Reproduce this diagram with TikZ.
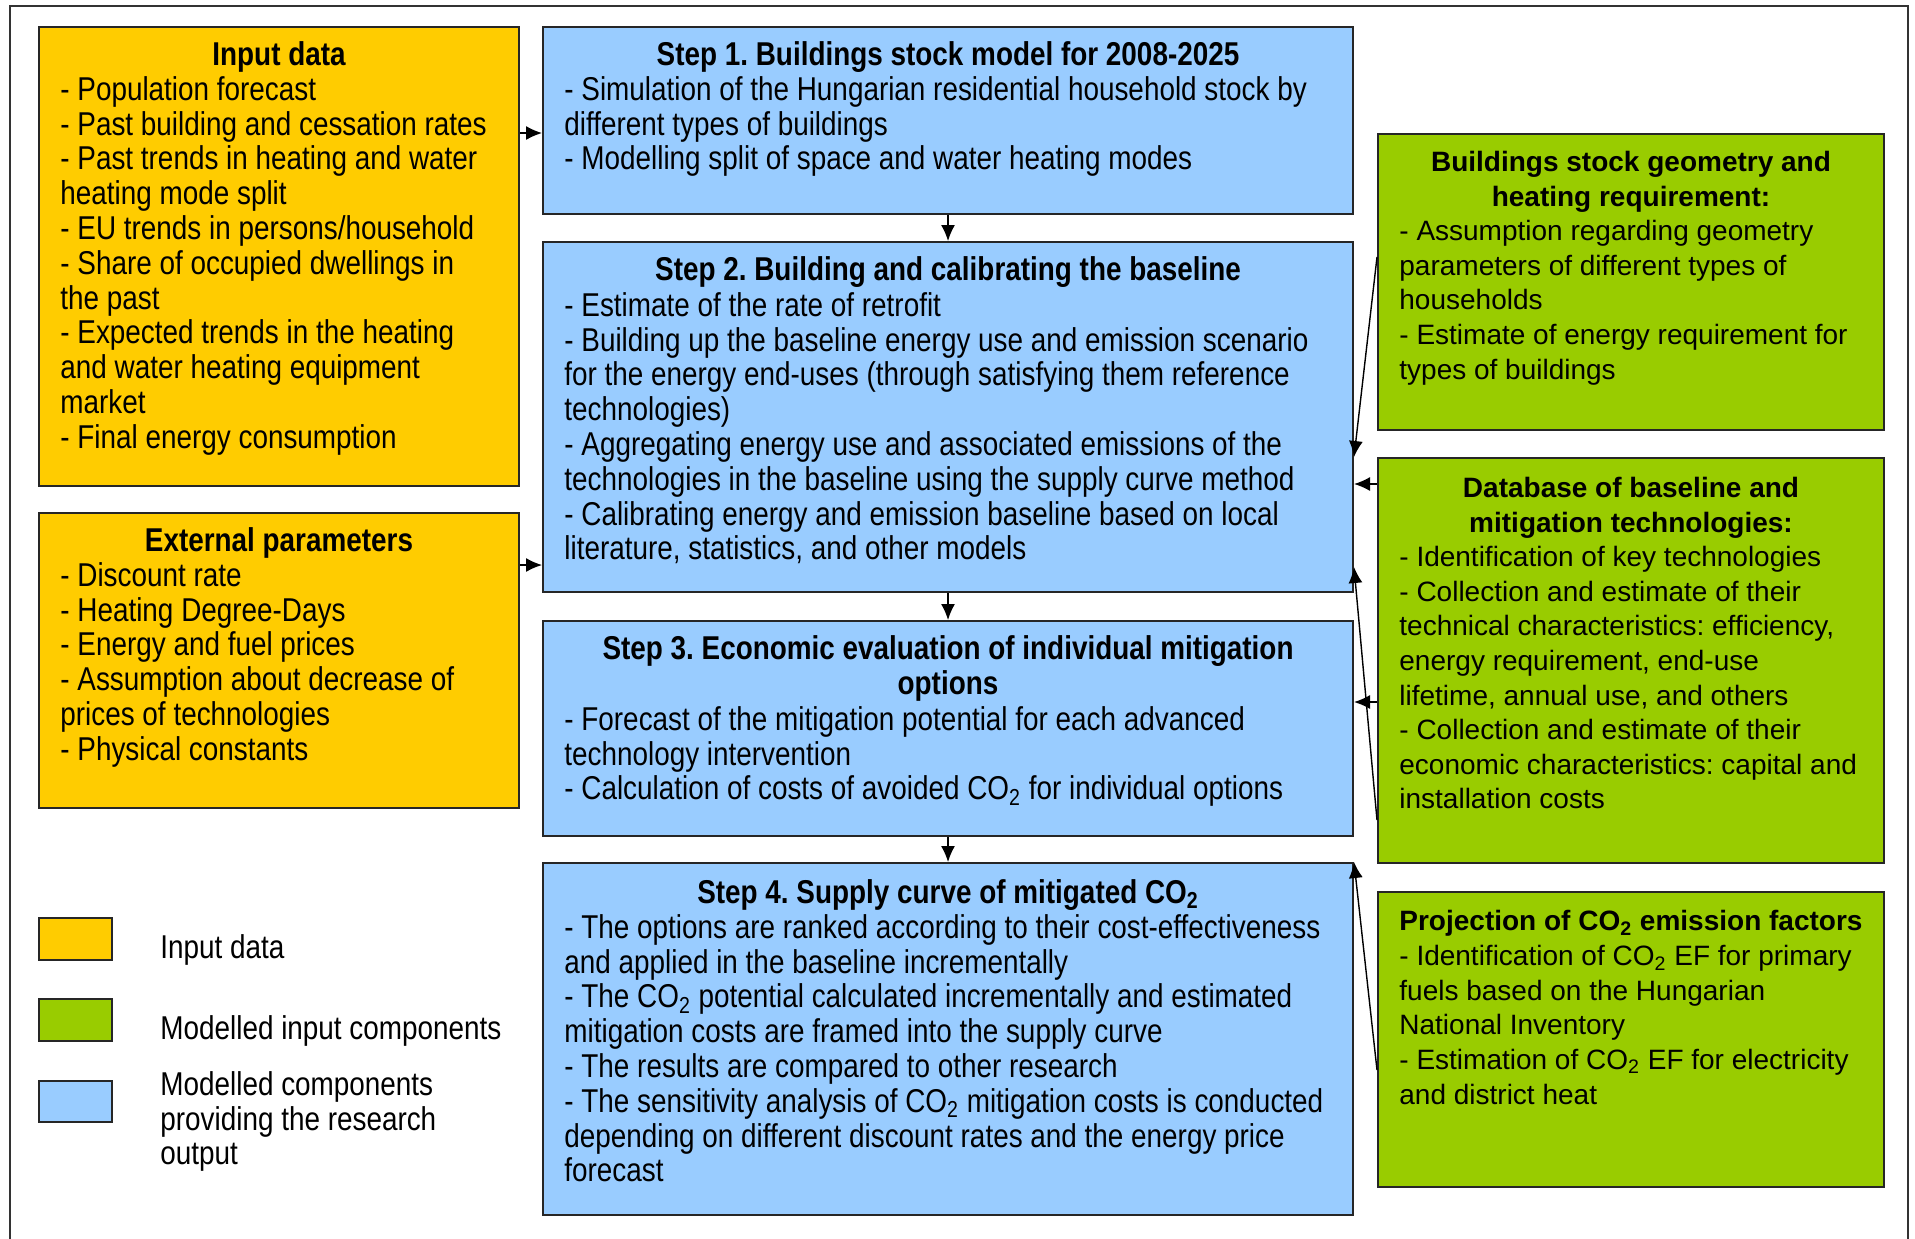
\documentclass[tikz,border=0pt]{standalone}
\usepackage{fontspec}
\setmainfont{Liberation Sans}
\newfontfamily\narrowfont[FakeStretch=0.845]{Liberation Sans}
\usetikzlibrary{arrows.meta,fit,positioning}
\definecolor{inputyellow}{HTML}{FFCC00}
\definecolor{modelgreen}{HTML}{99CC00}
\definecolor{stepblue}{HTML}{99CCFF}
\frenchspacing

\begin{document}
\begin{tikzpicture}[x=0.5pt,y=-0.5pt,
  box/.style={draw=black!85,line width=1pt,inner sep=0pt},
  inbox/.style={box,fill=inputyellow},
  stepbox/.style={box,fill=stepblue},
  modbox/.style={box,fill=modelgreen},
  narrowtxt/.style={inner sep=0pt,anchor=north west,align=left,
    font=\narrowfont\fontsize{16.5}{17.4}\selectfont},
  narrowttl/.style={narrowtxt,anchor=north,align=center,
    font=\narrowfont\bfseries\fontsize{16.5}{17.4}\selectfont},
  widetxt/.style={inner sep=0pt,anchor=north west,align=left,
    font=\fontsize{14}{17.3}\selectfont},
  widettl/.style={widetxt,anchor=north,align=center,
    font=\bfseries\fontsize{14}{17.3}\selectfont},
  legtxt/.style={narrowtxt,anchor=west,font=\narrowfont\fontsize{16.5}{17.2}\selectfont},
  arr/.style={line width=0.7pt,-{Latex[length=8pt,width=7pt]}}]
  \useasboundingbox (0,0) rectangle (1915,1238);
  % outer frame
  \draw[line width=1pt,black!80] (10,1250) -- (10,6) -- (1908,6) -- (1908,1250);
  % input data
  \node[inbox,fit={(39,27) (519,486)}] (indata) {};
  \node[inbox,fit={(39,513) (519,808)}] (extpar) {};
  % modelling steps
  \node[stepbox,fit={(543,27) (1353,214)}] (step1) {};
  \node[stepbox,fit={(543,242) (1353,592)}] (step2) {};
  \node[stepbox,fit={(543,621) (1353,836)}] (step3) {};
  \node[stepbox,fit={(543,863) (1353,1215)}] (step4) {};
  % modelled inputs
  \node[modbox,fit={(1378,134) (1884,430)}] (geom) {};
  \node[modbox,fit={(1378,458) (1884,863)}] (techdb) {};
  \node[modbox,fit={(1378,892) (1884,1187)}] (emfac) {};
  % legend
  \node[inbox,fit={(39,918) (112,960)}] (leginput) {};
  \node[modbox,fit={(39,999) (112,1041)}] (legmod) {};
  \node[stepbox,fit={(39,1081) (112,1122)}] (legstep) {};
  \node[legtxt,right=23.5pt of leginput,yshift=-5.5pt] (legtxt1) {Input data};
  \node[legtxt,right=23.5pt of legmod,yshift=-5.5pt] (legtxt2) {Modelled input components};
  \node[legtxt,right=23.5pt of legstep,yshift=-10pt] (legtxt3) {Modelled components\\providing the research\\output};

  % titles
  \node[narrowttl,below=7.5pt of indata.north] (indatattl) {Input data};
  \node[narrowttl,below=7.5pt of extpar.north] (extparttl) {External parameters};
  \node[narrowttl,below=7.5pt of step1.north] (step1ttl) {Step 1. Buildings stock model for 2008-2025};
  \node[narrowttl,below=7.5pt of step2.north] (step2ttl) {Step 2. Building and calibrating the baseline};
  \node[narrowttl,below=7.5pt of step3.north] (step3ttl) {Step 3. Economic evaluation of individual mitigation\\options};
  \node[narrowttl,below=8.5pt of step4.north] (step4ttl) {Step 4. Supply curve of mitigated CO\textsubscript{2}};
  \node[widettl,below=9pt of geom.north] (geomttl) {Buildings stock geometry and\\heating requirement:};
  \node[widettl,below=10pt of techdb.north] (techdbttl) {Database of baseline and\\mitigation technologies:};
  \node[widettl,anchor=north west] (emfacttl) at ([shift={(22,19)}]emfac.north west) {Projection of CO\textsubscript{2} emission factors};

  % texts
  \node[narrowtxt] (indatatxt) at ([shift={(22,50)}]indata.north west)
    {- Population forecast\\
    - Past building and cessation rates\\
    - Past trends in heating and water\\
    heating mode split\\
    - EU trends in persons/household\\
    - Share of occupied dwellings in\\
    the past\\
    - Expected trends in the heating\\
    and water heating equipment\\
    market\\
    - Final energy consumption};
  \node[narrowtxt] (extpartxt) at ([shift={(22,50)}]extpar.north west)
    {- Discount rate\\
    - Heating Degree-Days\\
    - Energy and fuel prices\\
    - Assumption about decrease of\\
    prices of technologies\\
    - Physical constants};
  \node[narrowtxt] (step1txt) at ([shift={(22,50)}]step1.north west)
    {- Simulation of the Hungarian residential household stock by\\
    different types of buildings\\
    - Modelling split of space and water heating modes};
  \node[narrowtxt] (step2txt) at ([shift={(22,51)}]step2.north west)
    {- Estimate of the rate of retrofit\\
    - Building up the baseline energy use and emission scenario\\
    for the energy end-uses (through satisfying them reference\\
    technologies)\\
    - Aggregating energy use and associated emissions of the\\
    technologies in the baseline using the supply curve method\\
    - Calibrating energy and emission baseline based on local\\
    literature, statistics, and other models};
  \node[narrowtxt] (step3txt) at ([shift={(22,86)}]step3.north west)
    {- Forecast of the mitigation potential for each advanced\\
    technology intervention\\
    - Calculation of costs of avoided CO\textsubscript{2} for individual options};
  \node[narrowtxt] (step4txt) at ([shift={(22,52)}]step4.north west)
    {- The options are ranked according to their cost-effectiveness\\
    and applied in the baseline incrementally\\
    - The CO\textsubscript{2} potential calculated incrementally and estimated\\
    mitigation costs are framed into the supply curve\\
    - The results are compared to other research\\
    - The sensitivity analysis of CO\textsubscript{2} mitigation costs is conducted\\
    depending on different discount rates and the energy price\\
    forecast};
  \node[widetxt] (geomtxt) at ([shift={(22,87)}]geom.north west)
    {- Assumption regarding geometry\\
    parameters of different types of\\
    households\\
    - Estimate of energy requirement for\\
    types of buildings};
  \node[widetxt] (techdbtxt) at ([shift={(22,89)}]techdb.north west)
    {- Identification of key technologies\\
    - Collection and estimate of their\\
    technical characteristics: efficiency,\\
    energy requirement, end-use\\
    lifetime, annual use, and others\\
    - Collection and estimate of their\\
    economic characteristics: capital and\\
    installation costs};
  \node[widetxt] (emfactxt) at ([shift={(22,54)}]emfac.north west)
    {- Identification of CO\textsubscript{2} EF for primary\\
    fuels based on the Hungarian\\
    National Inventory\\
    - Estimation of CO\textsubscript{2} EF for electricity\\
    and district heat};

  % connectors
  \draw[arr] (indata.east |- 0,133) -- (step1.west |- 0,133);
  \draw[arr] (extpar.east |- 0,565) -- (step2.west |- 0,565);
  \draw[arr] (step1.south) -- (step2.north);
  \draw[arr] (step2.south) -- (step3.north);
  \draw[arr] (step3.south) -- (step4.north);
  \draw[arr] (geom.west |- 0,257) -- (step2.east |- 0,457);
  \draw[arr] (techdb.west |- 0,484) -- (step2.east |- 0,484);
  \draw[arr] (techdb.west |- 0,702) -- (step3.east |- 0,702);
  \draw[arr] (techdb.west |- 0,820) -- (step2.east |- 0,567);
  \draw[arr] (emfac.west |- 0,1070) -- (step4.north east);
\end{tikzpicture}
\end{document}
